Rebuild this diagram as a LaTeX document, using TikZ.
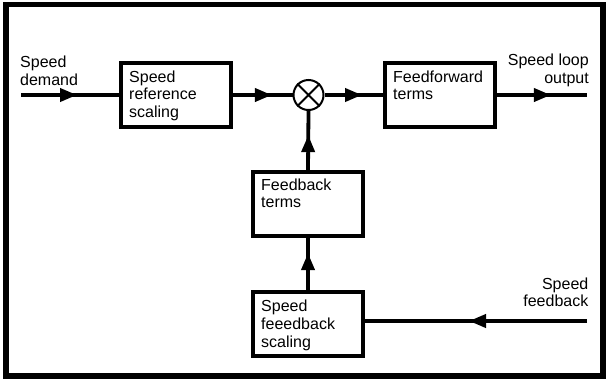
\documentclass[tikz,border=0pt]{standalone}
\usepackage{fontspec}
\setmainfont{Liberation Sans}
\usetikzlibrary{arrows.meta,decorations.markings}
\begin{document}
\begin{tikzpicture}[x=1pt,y=-1pt,
  blk/.style={draw,line width=3.8pt,minimum width=110pt,minimum height=64pt,inner sep=0pt},
  lbl/.style={inner sep=0pt,align=left,font=\fontsize{16}{17.7}\selectfont},
  lblr/.style={inner sep=0pt,align=right,font=\fontsize{16}{17.7}\selectfont},
  conn/.style={line width=3.8pt},
  tipat/.style={postaction={decorate,decoration={markings,
     mark=at position #1 with {\arrow{Triangle[length=17pt,width=13pt]}}}}}
]
\useasboundingbox (0,0) rectangle (608,381);
\draw[line width=5.5pt] (6,4.5) rectangle (603,376);

\coordinate (in) at (21,95);
\coordinate (out) at (587,95);
\coordinate (fbin) at (587,321);

\node[blk] (ref) at (176,95) {};
\node[draw,circle,line width=2pt,minimum size=30pt,inner sep=0pt] (sum) at (308.5,95) {};
\node[blk] (ff) at (440,95) {};
\node[blk] (fbt) at (308,204) {};
\node[blk] (scal) at (308,324) {};

\draw[line width=2pt] (sum.45) -- (sum.225) (sum.135) -- (sum.315);

\node[lbl,anchor=north west] (dem) at (20,56) {Speed\\demand};
\node[lbl,anchor=north west] (reft) at (129,70.3) {Speed\\reference\\scaling};
\node[lbl,anchor=north west] (fft) at (393,70.3) {Feedforward\\terms};
\node[lblr,anchor=north east] (outt) at (589,54) {Speed loop\\output};
\node[lbl,anchor=north west] (fbtt) at (261,178.3) {Feedback\\terms};
\node[lbl,anchor=north west] (scalt) at (261,300) {Speed\\feeedback\\scaling};
\node[lblr,anchor=north east] (fbint) at (588.5,277.3) {Speed\\feedback};

\draw[conn,tipat=56pt] (in) -- (ref.west);
\draw[conn,tipat=39pt] (ref.east) -- (sum.west);
\draw[conn,tipat=37.5pt] (sum.east) -- (ff.west);
\draw[conn,tipat=54pt] (ff.east) -- (out);
\draw[conn,tipat=118pt] (fbin) -- (fbin -| scal.east);
\draw[conn,tipat=37pt] (scal.north) -- (fbt.south);
\draw[conn,tipat=35pt] (fbt.north) -- (sum.south);
\end{tikzpicture}
\end{document}
